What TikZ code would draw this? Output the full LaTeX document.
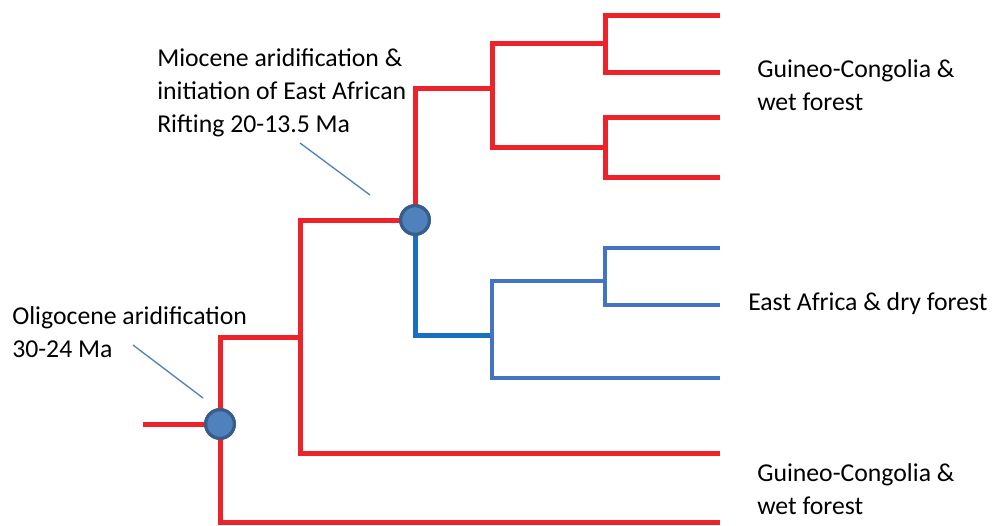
\documentclass[tikz,border=0pt]{standalone}
\usepackage{fontspec}
\setmainfont{Carlito}
\usepackage{tikz}
\usepackage{xcolor}

\definecolor{wetred}{HTML}{EE2229}
\definecolor{dryblue}{HTML}{4472C4}
\definecolor{stemblue}{HTML}{1A70C0}
\definecolor{dotfill}{HTML}{4F81BD}
\definecolor{dotrim}{HTML}{385D8A}

\tikzset{
	wet/.style={draw=wetred, line width=3.75pt},
	dry/.style={draw=dryblue, line width=3.2pt},
	drystem/.style={draw=stemblue, line width=3.75pt},
	event/.style={circle, fill=dotfill, draw=dotrim, line width=2.4pt, minimum size=21.5pt, inner sep=0pt},
	pointer/.style={draw=dotfill, line width=1pt},
	label/.style={anchor=west, align=left, inner sep=0pt, font=\fontsize{19.3}{24.75}\selectfont}
}

\begin{document}
\begin{tikzpicture}[x=0.75pt,y=-0.75pt]
\useasboundingbox (0,0) rectangle (992,525);
\coordinate (root) at (143,424);
\coordinate (c1) at (300,337);
\coordinate (c2) at (492,88);
\coordinate (c3) at (492,335);
\coordinate (c4) at (605,43);
\coordinate (c5) at (605,147);
\coordinate (c6) at (605,281);
\coordinate (t1) at (720,15);
\coordinate (t2) at (720,72);
\coordinate (t3) at (720,117);
\coordinate (t4) at (720,177);
\coordinate (t5) at (720,248);
\coordinate (t6) at (720,305);
\coordinate (t7) at (720,378);
\coordinate (t8) at (720,453);
\coordinate (t9) at (720,522);
\node[event] (olig) at (220,424) {};
\node[event] (mio) at (415,220) {};
% red clades
\draw[wet] (root) -- (olig.center);
\draw[wet] (c1) -| (olig.center) |- (t9);
\draw[wet] (mio.center) -| (c1) |- (t8);
\draw[wet] (c2) -| (mio.center);
\draw[wet] (c4) -| (c2) |- (c5);
\draw[wet] (t1) -| (c4) |- (t2);
\draw[wet] (t3) -| (c5) |- (t4);
% blue clade
\draw[drystem] (mio.center) |- (c3);
\draw[dry] (c6) -| (c3) |- (t7);
\draw[dry] (t5) -| (c6) |- (t6);
% dots on top
\node[event] at (olig) {};
\node[event] at (mio) {};
% labels
\node[label] (miolab) at (157,93) {Miocene aridification \&\\initiation of East African\\Rifting 20-13.5 Ma};
\node[label] (oliglab) at (12,332) {Oligocene aridification\\30-24 Ma};
\node[label] (wet1) at (757,85) {Guineo-Congolia \&\\wet forest};
\node[label] (dry1) at (748,304) {East Africa \& dry forest};
\node[label] (wet2) at (757,489) {Guineo-Congolia \&\\wet forest};
\coordinate (miotip) at (370,195);
\coordinate (oligtip) at (203,398);
\draw[pointer] (300,143) -- (miotip);
\draw[pointer] (133,345) -- (oligtip);
\end{tikzpicture}
\end{document}
